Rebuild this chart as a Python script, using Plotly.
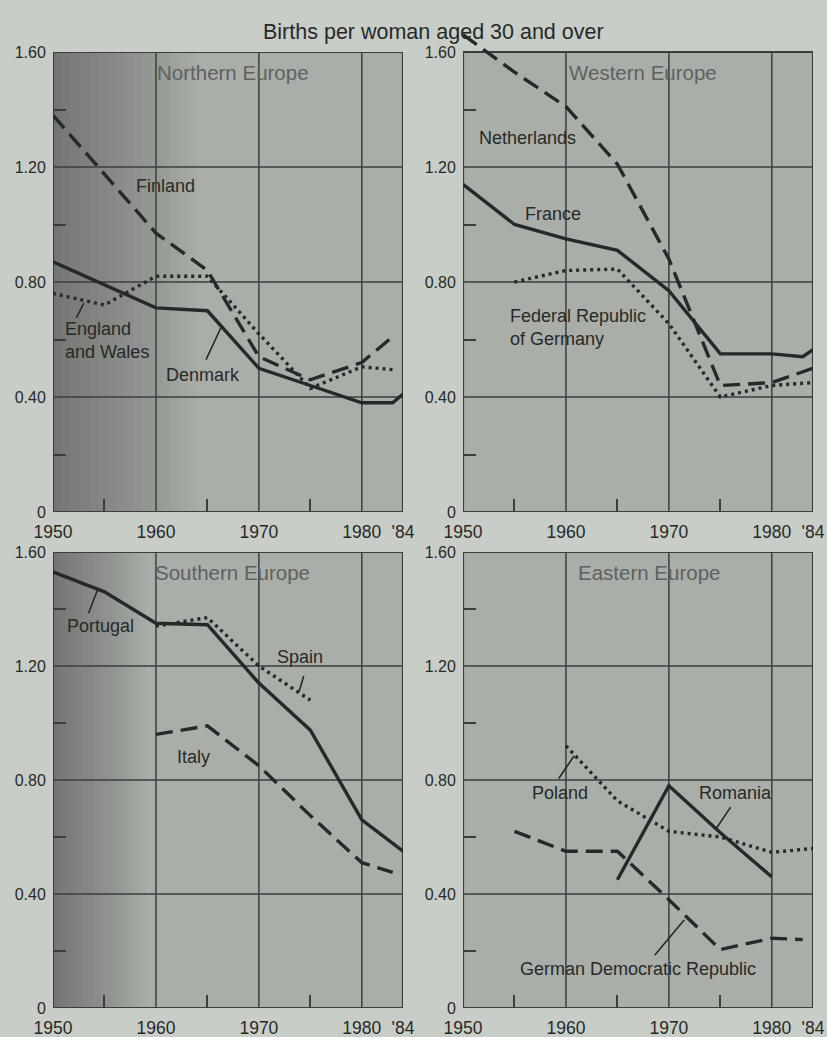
import plotly.graph_objects as go

# ---------------- data ----------------
TITLE = "Births per woman aged 30 and over"
PANEL_TITLES = ["Northern Europe", "Western Europe", "Southern Europe", "Eastern Europe"]

X_TICKVALS = [1950, 1960, 1970, 1980, 1984]
X_TICKTEXT = ["1950", "1960", "1970", "1980", "'84"]
Y_TICKVALS = [0, 0.4, 0.8, 1.2, 1.6]
Y_TICKTEXT = ["0", "0.40", "0.80", "1.20", "1.60"]
X_MINOR = [1955, 1965, 1975]
Y_MINOR = [0.2, 0.6, 1.0, 1.4]
GRID_YEARS = [1960, 1970, 1980]
GRID_VALUES = [0.4, 0.8, 1.2]

# Northern Europe
finland_x = [1950, 1960, 1965, 1970, 1975, 1980, 1983]
finland_y = [1.38, 0.97, 0.84, 0.54, 0.46, 0.52, 0.61]
england_x = [1950, 1955, 1960, 1965, 1970, 1975, 1980, 1983]
england_y = [0.76, 0.72, 0.82, 0.82, 0.62, 0.43, 0.505, 0.495]
denmark_x = [1950, 1955, 1960, 1965, 1970, 1975, 1980, 1983, 1984]
denmark_y = [0.87, 0.79, 0.71, 0.70, 0.50, 0.44, 0.38, 0.38, 0.41]

# Western Europe
netherlands_x = [1950, 1955, 1960, 1965, 1970, 1975, 1980, 1984]
netherlands_y = [1.66, 1.53, 1.41, 1.21, 0.88, 0.44, 0.45, 0.50]
france_x = [1950, 1955, 1960, 1965, 1970, 1975, 1980, 1983, 1984]
france_y = [1.14, 1.00, 0.95, 0.91, 0.77, 0.55, 0.55, 0.54, 0.565]
frg_x = [1955, 1960, 1965, 1970, 1975, 1980, 1984]
frg_y = [0.80, 0.84, 0.845, 0.655, 0.40, 0.44, 0.45]

# Southern Europe
portugal_x = [1950, 1955, 1960, 1965, 1970, 1975, 1980, 1984]
portugal_y = [1.53, 1.46, 1.35, 1.345, 1.14, 0.975, 0.66, 0.55]
spain_x = [1960, 1965, 1970, 1975]
spain_y = [1.34, 1.37, 1.20, 1.08]
italy_x = [1960, 1965, 1970, 1975, 1980, 1983]
italy_y = [0.96, 0.99, 0.85, 0.675, 0.51, 0.476]

# Eastern Europe
poland_x = [1960, 1965, 1970, 1975, 1980, 1984]
poland_y = [0.92, 0.727, 0.62, 0.60, 0.546, 0.56]
romania_x = [1965, 1970, 1975, 1980]
romania_y = [0.45, 0.78, 0.615, 0.46]
gdr_x = [1955, 1960, 1965, 1970, 1975, 1980, 1983]
gdr_y = [0.62, 0.55, 0.55, 0.38, 0.205, 0.245, 0.24]

# ---------------- style ----------------
W, H = 827, 1037
PAPER = "#c9cdc7"
PANEL = "#aaaea9"
INK = "#262a27"
GRID = "#3a3f3c"
TITLE_GRAY = "#5d625e"
FONT = "Liberation Sans, Arial, Helvetica, sans-serif"

SOLID = dict(color=INK, width=3.4)
DASH = dict(color=INK, width=3.4, dash="17px,8px")
DOT = dict(color=INK, width=3.4, dash="3px,4px")

# panel pixel boxes: (left, right, top, bottom) and y-range max
PANELS = [
    dict(px=(53, 403, 52, 512), ymax=1.6),
    dict(px=(463, 813, 52, 512), ymax=1.7),
    dict(px=(53, 403, 552, 1008), ymax=1.6),
    dict(px=(463, 813, 552, 1008), ymax=1.6),
]

fig = go.Figure()

series = [
    (1, finland_x, finland_y, DASH, "Finland"),
    (1, england_x, england_y, DOT, "England and Wales"),
    (1, denmark_x, denmark_y, SOLID, "Denmark"),
    (2, netherlands_x, netherlands_y, DASH, "Netherlands"),
    (2, frg_x, frg_y, DOT, "Federal Republic of Germany"),
    (2, france_x, france_y, SOLID, "France"),
    (3, italy_x, italy_y, DASH, "Italy"),
    (3, spain_x, spain_y, DOT, "Spain"),
    (3, portugal_x, portugal_y, SOLID, "Portugal"),
    (4, gdr_x, gdr_y, DASH, "German Democratic Republic"),
    (4, poland_x, poland_y, DOT, "Poland"),
    (4, romania_x, romania_y, SOLID, "Romania"),
]

for p, xs, ys, ln, name in series:
    sfx = "" if p == 1 else str(p)
    fig.add_trace(go.Scatter(x=xs, y=ys, mode="lines", line=ln, name=name,
                             xaxis="x" + sfx, yaxis="y" + sfx, showlegend=False,
                             hoverinfo="skip"))

layout = dict(
    template="none",
    width=W, height=H,
    paper_bgcolor=PAPER, plot_bgcolor=PAPER,
    margin=dict(l=0, r=0, t=0, b=0, pad=0, autoexpand=False),
    showlegend=False,
    font=dict(family=FONT, color=INK),
)

shapes = []
annotations = []

for i, pn in enumerate(PANELS):
    n = i + 1
    sfx = "" if n == 1 else str(n)
    L, R, T, B = pn["px"]
    scale = (B - T) / 1.6
    top_px = B - pn["ymax"] * scale
    xd = [L / W, R / W]
    yd = [1 - B / H, 1 - top_px / H]
    layout["xaxis" + sfx] = dict(
        domain=xd, range=[1950, 1984], anchor="y" + sfx, automargin=False,
        tickvals=X_TICKVALS, ticktext=X_TICKTEXT,
        tickfont=dict(size=17.5, color=INK, family=FONT),
        ticks="outside", ticklen=4, tickcolor="rgba(0,0,0,0)",
        showgrid=False, zeroline=False, showline=False,
        minor=dict(tickvals=X_MINOR, ticks="inside", ticklen=13, tickwidth=1.6,
                   tickcolor=GRID, showgrid=False),
        fixedrange=True,
    )
    layout["yaxis" + sfx] = dict(
        domain=yd, range=[0, pn["ymax"]], anchor="x" + sfx, automargin=False,
        tickvals=Y_TICKVALS, ticktext=Y_TICKTEXT,
        tickfont=dict(size=16, color=INK, family=FONT),
        ticks="outside", ticklen=3, tickcolor="rgba(0,0,0,0)",
        showgrid=False, zeroline=False, showline=False,
        minor=dict(tickvals=Y_MINOR, ticks="inside", ticklen=13, tickwidth=1.6,
                   tickcolor=GRID, showgrid=False),
        fixedrange=True,
    )
    xr, yr = "x" + sfx, "y" + sfx
    # panel fill
    shapes.append(dict(type="rect", xref=xr, yref=yr, x0=1950, x1=1984, y0=0, y1=1.6,
                       fillcolor=PANEL, line=dict(width=0), layer="below"))
    # darker left shading on left-hand panels (scan vignette)
    if n in (1, 3):
        span = 14.0 if n == 1 else 9.0
        steps = 16
        for k in range(1, steps + 1):
            shapes.append(dict(type="rect", xref=xr, yref=yr, x0=1950,
                               x1=1950 + span * k / steps, y0=0, y1=1.6,
                               fillcolor="rgba(20,25,22,0.026)",
                               line=dict(width=0), layer="below"))
    for g in GRID_YEARS:
        shapes.append(dict(type="line", xref=xr, yref=yr, x0=g, x1=g, y0=0, y1=1.6,
                           line=dict(color=GRID, width=1.5), layer="below"))
    for g in GRID_VALUES:
        shapes.append(dict(type="line", xref=xr, yref=yr, x0=1950, x1=1984, y0=g, y1=g,
                           line=dict(color=GRID, width=1.5), layer="below"))
    shapes.append(dict(type="rect", xref=xr, yref=yr, x0=1950, x1=1984, y0=0, y1=1.6,
                       fillcolor="rgba(0,0,0,0)", line=dict(color=GRID, width=2.2),
                       layer="below"))

# panel titles
title_pos = [(1967.5, 1.53), (1967.5, 1.53), (1967.4, 1.527), (1968.1, 1.527)]
for i, (t, (tx, ty)) in enumerate(zip(PANEL_TITLES, title_pos)):
    sfx = "" if i == 0 else str(i + 1)
    annotations.append(dict(text=t, x=tx, y=ty, xref="x" + sfx, yref="y" + sfx,
                            showarrow=False, font=dict(size=20.5, color=TITLE_GRAY, family=FONT)))

# series labels
labels = [
    (1, "Finland", 1960.9, 1.134, "center"),
    (1, "England<br>and Wales", 1951.0, 0.595, "left"),
    (1, "Denmark", 1964.6, 0.476, "center"),
    (2, "Netherlands", 1956.3, 1.30, "center"),
    (2, "France", 1958.7, 1.037, "center"),
    (2, "Federal Republic<br>of Germany", 1954.4, 0.643, "left"),
    (3, "Portugal", 1954.6, 1.34, "center"),
    (3, "Spain", 1974.0, 1.232, "center"),
    (3, "Italy", 1963.6, 0.882, "center"),
    (4, "Poland", 1959.4, 0.753, "center"),
    (4, "Romania", 1976.5, 0.753, "center"),
    (4, "German Democratic Republic", 1967.0, 0.137, "center"),
]
for p, t, lx, ly, anc in labels:
    sfx = "" if p == 1 else str(p)
    annotations.append(dict(text=t, x=lx, y=ly, xref="x" + sfx, yref="y" + sfx,
                            xanchor=anc, align="left", showarrow=False,
                            font=dict(size=18, color=INK, family=FONT)))

# leader lines (from label to curve)
leaders = [
    (1, 1952.2, 0.67, 1953.0, 0.727),
    (1, 1964.8, 0.525, 1966.3, 0.64),
    (3, 1953.4, 1.38, 1954.3, 1.465),
    (3, 1974.4, 1.17, 1973.9, 1.11),
    (4, 1959.2, 0.80, 1960.8, 0.885),
    (4, 1976.1, 0.71, 1974.6, 0.63),
    (4, 1968.5, 0.18, 1971.5, 0.31),
]
for p, x0, y0, x1, y1 in leaders:
    sfx = "" if p == 1 else str(p)
    annotations.append(dict(text="", x=x1, y=y1, ax=x0, ay=y0,
                            xref="x" + sfx, yref="y" + sfx,
                            axref="x" + sfx, ayref="y" + sfx,
                            showarrow=True, arrowhead=0, arrowwidth=1.6,
                            arrowcolor=INK, standoff=0, startstandoff=0))

annotations.append(dict(text=TITLE, x=434 / W, y=1 - 18 / H, xref="paper", yref="paper",
                        showarrow=False, font=dict(size=21.5, color=INK, family=FONT)))

layout["shapes"] = shapes
layout["annotations"] = annotations
fig.update_layout(**layout)

fig.write_html(
    "out.html",
    config={"displayModeBar": False},
    post_script="document.body.style.margin='0px';"
                "document.body.style.background='" + PAPER + "';",
)
